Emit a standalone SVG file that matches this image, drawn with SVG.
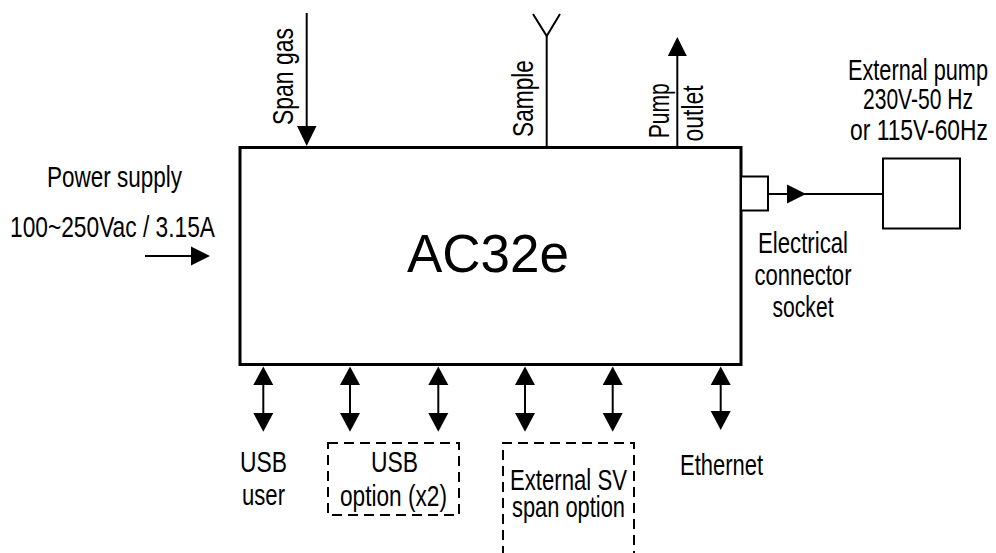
<svg xmlns="http://www.w3.org/2000/svg" width="996" height="553" viewBox="0 0 996 553">
<style>
  text { font-family: "Liberation Sans", Arial, sans-serif; fill: #000; }
  .lbl { font-size: 29.5px; }
  .big { font-size: 54px; }
  .line { stroke: #000; stroke-width: 2; fill: none; }
  .box { stroke: #000; stroke-width: 3; fill: #fff; }
  .thin { stroke: #000; stroke-width: 2; fill: #fff; }
  .dash { stroke: #000; stroke-width: 2; fill: none; stroke-dasharray: 10 6; }
  .head { fill: #000; stroke: none; }
</style>
<rect width="996" height="553" fill="#fff"/>

<g id="connectors">
  <!-- Span gas -->
  <line class="line" x1="306.7" y1="13" x2="306.7" y2="130"/>
  <polygon class="head" points="297,126 316.5,126 306.7,146"/>
  <!-- Sample -->
  <polyline class="line" points="533,14 546.7,36 560,14"/>
  <line class="line" x1="546.7" y1="36" x2="546.7" y2="147"/>
  <!-- Pump outlet -->
  <line class="line" x1="677.3" y1="146" x2="677.3" y2="52"/>
  <polygon class="head" points="667.8,56 686.8,56 677.3,37"/>
  <!-- Power -->
  <line class="line" x1="145" y1="256" x2="195" y2="256"/>
  <polygon class="head" points="191,246.5 191,265.5 210,256"/>
  <!-- Electrical connector to pump -->
  <line class="line" x1="768" y1="194" x2="883" y2="194"/>
  <polygon class="head" points="787,184.5 787,203.5 806,194"/>
  <!-- Bottom double arrows -->
  <g id="bottom-arrows">
    <line class="line" x1="263.3" y1="380" x2="263.3" y2="418"/>
    <polygon class="head" points="253.3,385 273.3,385 263.3,366.5"/>
    <polygon class="head" points="253.3,413 273.3,413 263.3,431.7"/>
    <line class="line" x1="350" y1="380" x2="350" y2="418"/>
    <polygon class="head" points="340,385 360,385 350,366.5"/>
    <polygon class="head" points="340,413 360,413 350,431.7"/>
    <line class="line" x1="438.3" y1="380" x2="438.3" y2="418"/>
    <polygon class="head" points="428.3,385 448.3,385 438.3,366.5"/>
    <polygon class="head" points="428.3,413 448.3,413 438.3,431.7"/>
    <line class="line" x1="525" y1="380" x2="525" y2="418"/>
    <polygon class="head" points="515,385 535,385 525,366.5"/>
    <polygon class="head" points="515,413 535,413 525,431.7"/>
    <line class="line" x1="612.7" y1="380" x2="612.7" y2="418"/>
    <polygon class="head" points="602.7,385 622.7,385 612.7,366.5"/>
    <polygon class="head" points="602.7,413 622.7,413 612.7,431.7"/>
    <line class="line" x1="720.7" y1="380" x2="720.7" y2="416"/>
    <polygon class="head" points="710.7,385 730.7,385 720.7,366.5"/>
    <polygon class="head" points="710.7,411 730.7,411 720.7,430"/>
  </g>
</g>

<g id="ac32e">
  <rect class="box" x="240" y="147.5" width="501" height="217"/>
  <text class="big" x="488" y="272" text-anchor="middle" textLength="162" lengthAdjust="spacingAndGlyphs">AC32e</text>
</g>

<g id="span-gas">
  <text class="lbl" transform="translate(293,76.5) rotate(-90)" text-anchor="middle" textLength="97" lengthAdjust="spacingAndGlyphs">Span gas</text>
</g>

<g id="sample">
  <text class="lbl" transform="translate(533,98.5) rotate(-90)" text-anchor="middle" textLength="77" lengthAdjust="spacingAndGlyphs">Sample</text>
</g>

<g id="pump-outlet">
  <text class="lbl" transform="translate(669,110.8) rotate(-90)" text-anchor="middle" textLength="55" lengthAdjust="spacingAndGlyphs">Pump</text>
  <text class="lbl" transform="translate(703,113.4) rotate(-90)" text-anchor="middle" textLength="56" lengthAdjust="spacingAndGlyphs">outlet</text>
</g>

<g id="power-supply">
  <text class="lbl" x="114.5" y="187" text-anchor="middle" textLength="135" lengthAdjust="spacingAndGlyphs">Power supply</text>
  <text class="lbl" x="112.5" y="237" text-anchor="middle" textLength="205" lengthAdjust="spacingAndGlyphs">100~250Vac / 3.15A</text>
</g>

<g id="electrical-connector">
  <rect class="thin" x="741" y="176.5" width="27" height="34"/>
  <text class="lbl" x="803" y="253" text-anchor="middle" textLength="90" lengthAdjust="spacingAndGlyphs">Electrical</text>
  <text class="lbl" x="803" y="285" text-anchor="middle" textLength="97" lengthAdjust="spacingAndGlyphs">connector</text>
  <text class="lbl" x="803" y="317" text-anchor="middle" textLength="61" lengthAdjust="spacingAndGlyphs">socket</text>
</g>

<g id="external-pump">
  <rect class="thin" x="883" y="158.5" width="77" height="70"/>
  <text class="lbl" x="918" y="79.5" text-anchor="middle" textLength="140" lengthAdjust="spacingAndGlyphs">External pump</text>
  <text class="lbl" x="918" y="108.5" text-anchor="middle" textLength="110" lengthAdjust="spacingAndGlyphs">230V-50 Hz</text>
  <text class="lbl" x="919" y="140" text-anchor="middle" textLength="138" lengthAdjust="spacingAndGlyphs">or 115V-60Hz</text>
</g>

<g id="usb-user">
  <text class="lbl" x="263.5" y="471.7" text-anchor="middle" textLength="47" lengthAdjust="spacingAndGlyphs">USB</text>
  <text class="lbl" x="263.5" y="505" text-anchor="middle" textLength="43" lengthAdjust="spacingAndGlyphs">user</text>
</g>

<g id="usb-option">
  <rect class="dash" x="328" y="443" width="131" height="72"/>
  <text class="lbl" x="394.5" y="471.7" text-anchor="middle" textLength="47" lengthAdjust="spacingAndGlyphs">USB</text>
  <text class="lbl" x="393.5" y="506" text-anchor="middle" textLength="107" lengthAdjust="spacingAndGlyphs">option (x2)</text>
</g>

<g id="external-sv">
  <path class="dash" d="M503,556 V443 H634 V556"/>
  <text class="lbl" x="568.5" y="490" text-anchor="middle" textLength="117" lengthAdjust="spacingAndGlyphs">External SV</text>
  <text class="lbl" x="568.5" y="517" text-anchor="middle" textLength="113" lengthAdjust="spacingAndGlyphs">span option</text>
</g>

<g id="ethernet">
  <text class="lbl" x="721.5" y="475" text-anchor="middle" textLength="83" lengthAdjust="spacingAndGlyphs">Ethernet</text>
</g>
</svg>
